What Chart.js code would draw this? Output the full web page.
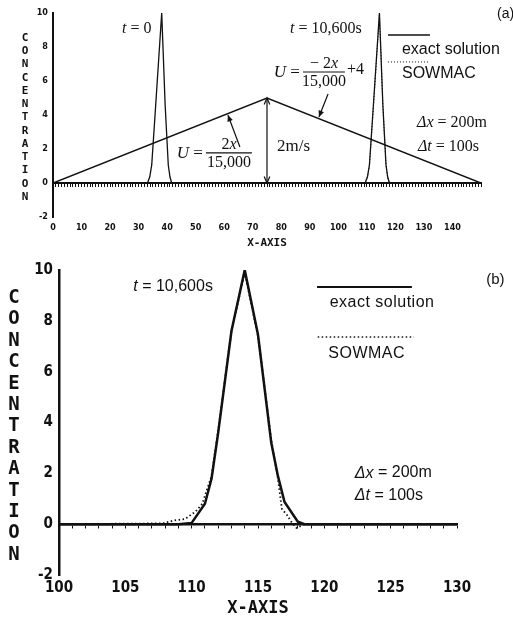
<!DOCTYPE html>
<html><head><meta charset="utf-8">
<script src="https://cdn.jsdelivr.net/npm/chart.js@4/dist/chart.umd.min.js"></script>
<style>
html,body{margin:0;padding:0;background:#fff;width:513px;height:624px;overflow:hidden}
#wa{position:absolute;left:0;top:0;width:513px;height:250px}
#wb{position:absolute;left:0;top:250px;width:513px;height:374px}
canvas{display:block}
</style></head><body>
<div id="wa"><canvas id="ca" width="513" height="250"></canvas></div>
<div id="wb"><canvas id="cb" width="513" height="374"></canvas></div>
<script>
// ===== Panel (a) data =====
const aExact0X  = [0, 33.1, 33.9, 34.6, 36.0, 38.1, 39.3, 40.4, 41.0, 41.6, 150];
const aExact0Y  = [0, 0, 0.35, 1.06, 4.6, 10, 4.6, 1.06, 0.35, 0, 0];
const aExact1X  = [109.4, 110.2, 110.9, 112.3, 114.4, 115.6, 116.7, 117.3, 117.9];
const aExact1Y  = [0, 0.35, 1.06, 4.6, 10, 4.6, 1.06, 0.35, 0];
const aSowmacX  = [109.2, 110.1, 110.9, 112.3, 114.4, 115.6, 116.7, 117.3, 118.0];
const aSowmacY  = [0, 0.3, 1.0, 4.5, 9.9, 4.6, 1.1, 0.3, 0];
const aVelX     = [0, 75, 150];
const aVelY     = [0, 5, 0];
const aXTicks   = [0, 10, 20, 30, 40, 50, 60, 70, 80, 90, 100, 110, 120, 130, 140];
const yTicks    = [-2, 0, 2, 4, 6, 8, 10];

// ===== Panel (b) data =====
const bExactX   = [100, 109, 110, 111, 111.5, 112, 113, 114, 115, 116, 116.5, 117, 118, 118.5, 130];
const bExactY   = [0, 0, 0.05, 0.8, 1.8, 3.6, 7.6, 10, 7.45, 3.2, 1.9, 0.87, 0.1, 0, 0];
const bSowmacX  = [100, 107.8, 108.7, 109.5, 110.3, 110.8, 111.5, 112, 113, 114, 115, 116, 116.5, 116.8, 117.2, 117.5, 117.9, 118.5, 130];
const bSowmacY  = [0, 0.03, 0.15, 0.2, 0.5, 0.8, 1.9, 3.7, 7.6, 9.9, 7.4, 3.3, 1.8, 0.6, 0.35, 0.1, -0.15, 0, 0];
const bXTicks   = [100, 105, 110, 115, 120, 125, 130];

const pts = (xs, ys) => xs.map((x, i) => ({x, y: ys[i]}));

const NARROW = '"Liberation Sans Narrow","DejaVu Sans Condensed","Liberation Sans",sans-serif';
const SERIF = '"Liberation Serif","DejaVu Serif",serif';
const SANS = '"Liberation Sans","DejaVu Sans",sans-serif';
const MONO = '"DejaVu Sans Mono","Liberation Mono",monospace';
const INK = '#111';

// ---------- drawing helpers for annotations ----------
function P(chart, x, y) { return [chart.scales.x.getPixelForValue(x), chart.scales.y.getPixelForValue(y)]; }
function runs(ctx, list, x, y, align, spacing) {
  ctx.letterSpacing = spacing || '0px';
  let w = 0;
  list.forEach(r => { ctx.font = r[1]; w += ctx.measureText(r[0]).width; });
  let cx = align === 'center' ? x - w / 2 : (align === 'right' ? x - w : x);
  ctx.textAlign = 'left'; ctx.textBaseline = 'middle';
  list.forEach(r => { ctx.font = r[1]; ctx.fillText(r[0], cx, y); cx += ctx.measureText(r[0]).width; });
  ctx.letterSpacing = '0px';
}
function arrowHead(ctx, x1, y1, x2, y2, len, filled) {
  const a = Math.atan2(y2 - y1, x2 - x1), s = 0.42;
  ctx.beginPath();
  ctx.moveTo(x2 - len * Math.cos(a - s), y2 - len * Math.sin(a - s));
  ctx.lineTo(x2, y2);
  ctx.lineTo(x2 - len * Math.cos(a + s), y2 - len * Math.sin(a + s));
  if (filled) { ctx.closePath(); ctx.fill(); } else ctx.stroke();
}
const annotPlugin = {
  id: 'annot',
  afterDraw(chart) {
    const ctx = chart.ctx, items = chart.options.plugins.annot.items;
    ctx.save();
    ctx.fillStyle = INK; ctx.strokeStyle = INK;
    items.forEach(it => {
      if (it.type === 'text') {
        const [x, y] = P(chart, it.x, it.y);
        runs(ctx, it.runs, x, y, it.align || 'left', it.spacing);
      } else if (it.type === 'stack') {
        const [x] = P(chart, it.x, 0);
        const n = it.text.length;
        ctx.font = it.font; ctx.textAlign = 'center'; ctx.textBaseline = 'middle';
        for (let i = 0; i < n; i++) {
          const yv = it.y0 + (it.y1 - it.y0) * i / (n - 1);
          ctx.fillText(it.text[i], x, chart.scales.y.getPixelForValue(yv));
        }
      } else if (it.type === 'seg') {
        const [x1, y1] = P(chart, it.x0, it.y);
        const [x2] = P(chart, it.x1, it.y);
        ctx.lineWidth = it.width; ctx.setLineDash(it.dash || []);
        ctx.beginPath(); ctx.moveTo(x1, y1); ctx.lineTo(x2, y1); ctx.stroke();
        ctx.setLineDash([]);
      } else if (it.type === 'arrow') {
        const [x1, y1] = P(chart, it.x0, it.y0);
        const [x2, y2] = P(chart, it.x1, it.y1);
        ctx.lineWidth = 1.2;
        ctx.beginPath(); ctx.moveTo(x1, y1); ctx.lineTo(x2, y2); ctx.stroke();
        arrowHead(ctx, x1, y1, x2, y2, 7, !it.both);
        if (it.both) arrowHead(ctx, x2, y2, x1, y1, 7, false);
      } else if (it.type === 'frac') {
        const [bx, by] = P(chart, it.x, it.y);
        ctx.lineWidth = 1.1;
        ctx.beginPath(); ctx.moveTo(bx, by); ctx.lineTo(bx + it.barW, by); ctx.stroke();
        runs(ctx, it.lead, bx - 3, by + 1, 'right');
        runs(ctx, it.num, bx + it.barW / 2, by - 8, 'center');
        runs(ctx, it.den, bx + it.barW / 2, by + 10, 'center');
        if (it.trail) runs(ctx, it.trail, bx + it.barW + 2, by - 2, 'left');
      }
    });
    ctx.restore();
  }
};

function makeChart(id, o) {
  return new Chart(document.getElementById(id), {
    type: 'line',
    data: {datasets: o.datasets},
    options: {
      responsive: false, animation: false, devicePixelRatio: 1,
      layout: {padding: o.padding},
      plugins: {legend: {display: false}, tooltip: {enabled: false}, annot: {items: o.items}},
      elements: {point: {radius: 0}, line: {tension: 0}},
      scales: {
        x: {
          type: 'linear', min: o.xmin, max: o.xmax,
          afterBuildTicks: s => { s.ticks = o.xTicks.map(v => ({value: v})); },
          ticks: {font: o.tickFont, color: INK, padding: o.xPad, autoSkip: false, maxRotation: 0},
          grid: {display: false, drawTicks: false, tickLength: 0}, border: {display: false},
          title: {display: true, text: 'X-AXIS', color: INK, font: o.titleFont, padding: {top: 0, bottom: o.titlePadB}},
          afterFit: s => { s.height = o.xH; }
        },
        x2: {
          type: 'linear', axis: 'x', position: {y: 0}, min: o.xmin, max: o.xmax,
          ticks: {display: false, stepSize: 1, autoSkip: false},
          grid: {display: true, drawOnChartArea: false, drawTicks: true, tickLength: o.hatch, tickWidth: 1, color: INK},
          border: {display: true, color: INK, width: o.baseW}
        },
        y: {
          type: 'linear', min: -2, max: 10,
          afterBuildTicks: s => { s.ticks = yTicks.map(v => ({value: v})); },
          ticks: {font: o.tickFont, color: INK, padding: o.yPad},
          grid: {display: false, drawTicks: false, tickLength: 0},
          border: {display: true, color: INK, width: o.axisW},
          afterFit: s => { s.width = o.yW; }
        }
      }
    },
    plugins: [annotPlugin]
  });
}

const serif = (s, it) => (it ? 'italic ' : '') + s + 'px ' + SERIF;
const sans = (s, it) => (it ? 'italic ' : '') + s + 'px ' + SANS;

// ===== Panel (a) =====
makeChart('ca', {
  xmin: 0, xmax: 150, xTicks: aXTicks,
  padding: {left: 0, top: 13, right: 32, bottom: 0},
  yW: 53, xH: 33, xPad: 5, yPad: 5, titlePadB: 0, hatch: 3, baseW: 2, axisW: 2,
  tickFont: {family: NARROW, size: 9, weight: 'bold'},
  titleFont: {family: MONO, size: 11, weight: 'bold'},
  datasets: [
    {data: pts(aVelX, aVelY), borderColor: INK, borderWidth: 1.4},
    {data: pts(aExact0X, aExact0Y), borderColor: INK, borderWidth: 1.3},
    {data: pts(aExact1X, aExact1Y), borderColor: INK, borderWidth: 1.3},
    {data: pts(aSowmacX, aSowmacY), borderColor: INK, borderWidth: 1, borderDash: [1, 2]}
  ],
  items: [
    {type: 'stack', text: 'CONCENTRATION', x: -9.8, y0: 8.53, y1: -0.82, font: 'bold 11px ' + MONO},
    {type: 'text', x: 24.2, y: 9.06, runs: [['t', serif(16, true)], [' = 0', serif(16)]]},
    {type: 'text', x: 83.1, y: 9.06, runs: [['t', serif(16, true)], [' = 10,600s', serif(16)]]},
    {type: 'seg', x0: 117.4, x1: 132.1, y: 8.71, width: 1.4},
    {type: 'text', x: 122.3, y: 7.82, runs: [['exact solution', sans(16)]]},
    {type: 'seg', x0: 117.4, x1: 132.1, y: 7.12, width: 1, dash: [1, 2]},
    {type: 'text', x: 122.3, y: 6.41, runs: [['SOWMAC', sans(16)]]},
    {type: 'text', x: 155.6, y: 9.94, runs: [['(a)', sans(14)]]},
    {type: 'frac', x: 87.6, y: 6.53, barW: 42,
      lead: [['U', serif(17, true)], [' =', serif(17)]],
      num: [['\u2212 2', serif(16)], ['x', serif(16, true)]],
      den: [['15,000', serif(16)]],
      trail: [['+4', serif(16)]]},
    {type: 'arrow', x0: 96.4, y0: 5.24, x1: 93.2, y1: 3.88},
    {type: 'frac', x: 53.6, y: 1.77, barW: 46,
      lead: [['U', serif(17, true)], [' =', serif(17)]],
      num: [['2', serif(16)], ['x', serif(16, true)]],
      den: [['15,000', serif(16)]]},
    {type: 'arrow', x0: 65.5, y0: 2.12, x1: 61.3, y1: 4.0},
    {type: 'arrow', x0: 75, y0: 0, x1: 75, y1: 5, both: true},
    {type: 'text', x: 78.5, y: 2.12, runs: [['2m/s', serif(17)]]},
    {type: 'text', x: 127.6, y: 3.53, runs: [['\u0394x', serif(16, true)], [' = 200m', serif(16)]]},
    {type: 'text', x: 127.9, y: 2.12, runs: [['\u0394t', serif(16, true)], [' = 100s', serif(16)]]}
  ]
});

// ===== Panel (b) =====
makeChart('cb', {
  xmin: 100, xmax: 130, xTicks: bXTicks,
  padding: {left: 0, top: 20, right: 56, bottom: 3},
  yW: 59, xH: 46, xPad: 4, yPad: 6, titlePadB: 2, hatch: 3, baseW: 2.5, axisW: 2.5,
  tickFont: {family: NARROW, size: 15, weight: 'bold'},
  titleFont: {family: MONO, size: 17, weight: 'bold'},
  datasets: [
    {data: pts(bExactX, bExactY), borderColor: INK, borderWidth: 2.5},
    {data: pts(bSowmacX, bSowmacY), borderColor: INK, borderWidth: 1.8, borderDash: [1.5, 2.5]}
  ],
  items: [
    {type: 'stack', text: 'CONCENTRATION', x: 96.6, y0: 8.9, y1: -1.21, font: 'bold 19px ' + MONO},
    {type: 'text', x: 105.6, y: 9.33, runs: [['t', sans(16, true)], [' = 10,600s', sans(16)]]},
    {type: 'seg', x0: 119.45, x1: 126.6, y: 9.33, width: 2},
    {type: 'text', x: 120.4, y: 8.70, runs: [['exact solution', sans(16)]], spacing: '0.5px'},
    {type: 'seg', x0: 119.5, x1: 126.75, y: 7.36, width: 1.5, dash: [1.5, 2.5]},
    {type: 'text', x: 120.3, y: 6.73, runs: [['SOWMAC', sans(16)]], spacing: '0.5px'},
    {type: 'text', x: 132.2, y: 9.61, runs: [['(b)', sans(15)]]},
    {type: 'text', x: 122.3, y: 2.01, runs: [['\u0394x', sans(16, true)], [' = 200m', sans(16)]]},
    {type: 'text', x: 122.3, y: 1.11, runs: [['\u0394t', sans(16, true)], [' = 100s', sans(16)]]}
  ]
});
</script>
</body></html>
